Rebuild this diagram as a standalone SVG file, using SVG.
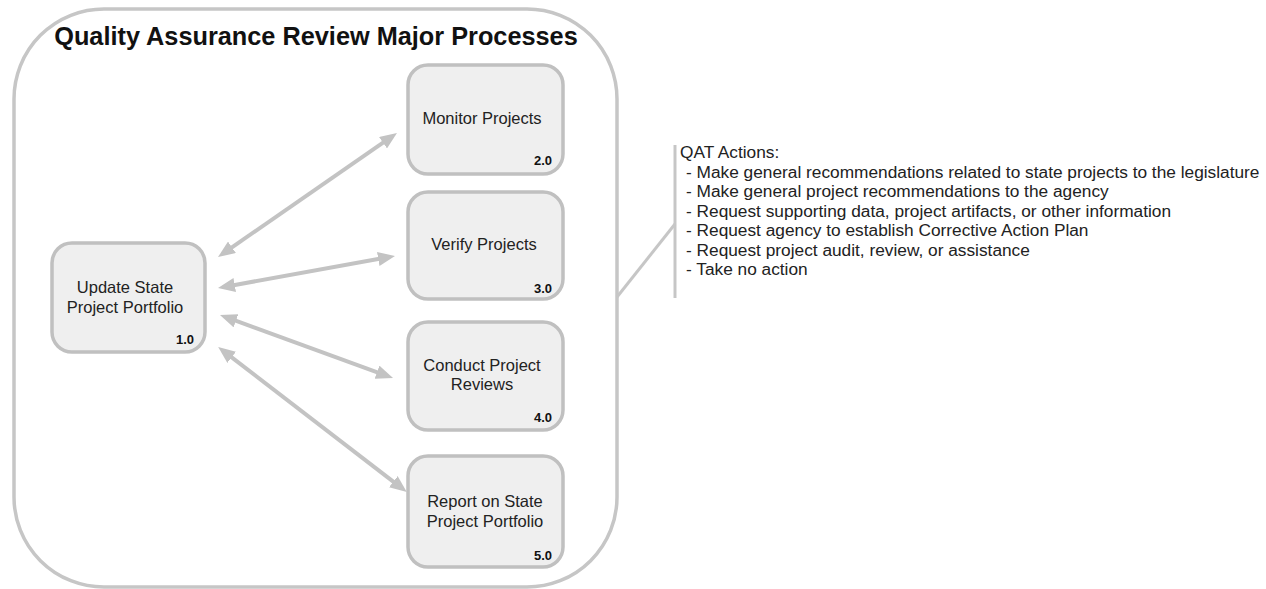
<svg xmlns="http://www.w3.org/2000/svg" width="1266" height="589" viewBox="0 0 1266 589">
  <style>
    .frame { fill: #ffffff; stroke: #c6c6c6; stroke-width: 3.5; }
    .box { fill: #efefef; stroke: #c0c0c0; stroke-width: 3.5; }
    .title { font-family: "Liberation Sans", Arial, sans-serif; font-size: 25.3px; font-weight: bold; fill: #111111; text-anchor: middle; }
    .label { font-family: "Liberation Sans", Arial, sans-serif; font-size: 16.5px; fill: #222222; text-anchor: middle; }
    .num { font-family: "Liberation Sans", Arial, sans-serif; font-size: 13px; font-weight: bold; fill: #111111; text-anchor: end; }
    .note { font-family: "Liberation Sans", Arial, sans-serif; font-size: 17.3px; fill: #222222; }
    .link { stroke: #c3c3c3; stroke-width: 4; fill: none; marker-start: url(#head); marker-end: url(#head); }
    .bracket { stroke: #c6c6c6; stroke-width: 3; fill: none; }
  </style>
  <defs>
    <marker id="head" markerUnits="userSpaceOnUse" markerWidth="17" markerHeight="14" refX="4" refY="7" orient="auto-start-reverse">
      <path d="M0,0 L17,7 L0,14 z" fill="#c3c3c3"/>
    </marker>
  </defs>

  <!-- outer process frame -->
  <g id="frame">
    <rect class="frame" x="14" y="9" width="603" height="578" rx="90" ry="90"/>
    <text class="title" x="316" y="45">Quality Assurance Review Major Processes</text>
  </g>

  <!-- connectors -->
  <g id="connectors">
    <line class="link" x1="228.7" y1="249.6" x2="386.3" y2="140.4"/>
    <line class="link" x1="230.8" y1="285.7" x2="382.2" y2="258.3"/>
    <line class="link" x1="232.2" y1="319.4" x2="380.8" y2="373.6"/>
    <line class="link" x1="228.5" y1="354.9" x2="396.5" y2="484.1"/>
  </g>

  <g id="node-1">
    <rect class="box" x="52" y="243" width="153" height="109" rx="20"/>
    <text class="label" x="125" y="293">Update State</text>
    <text class="label" x="125" y="313">Project Portfolio</text>
    <text class="num" x="194" y="344">1.0</text>
  </g>

  <g id="node-2">
    <rect class="box" x="408" y="65" width="155" height="109" rx="20"/>
    <text class="label" x="482" y="124">Monitor Projects</text>
    <text class="num" x="552" y="165">2.0</text>
  </g>

  <g id="node-3">
    <rect class="box" x="408" y="192" width="155" height="107" rx="20"/>
    <text class="label" x="484" y="250">Verify Projects</text>
    <text class="num" x="552" y="293">3.0</text>
  </g>

  <g id="node-4">
    <rect class="box" x="408" y="322" width="155" height="108" rx="20"/>
    <text class="label" x="482" y="371">Conduct Project</text>
    <text class="label" x="482" y="390">Reviews</text>
    <text class="num" x="552" y="422">4.0</text>
  </g>

  <g id="node-5">
    <rect class="box" x="408" y="456" width="155" height="111" rx="20"/>
    <text class="label" x="485" y="507">Report on State</text>
    <text class="label" x="485" y="527">Project Portfolio</text>
    <text class="num" x="552" y="560">5.0</text>
  </g>

  <!-- annotation bracket and list -->
  <g id="qat-actions">
    <polyline class="bracket" points="617,297 675,224"/>
    <line class="bracket" x1="675" y1="145" x2="675" y2="298"/>
    <text class="note" x="680" y="158">QAT Actions:</text>
    <text class="note" x="686" y="177.5">- Make general recommendations related to state projects to the legislature</text>
    <text class="note" x="686" y="197">- Make general project recommendations to the agency</text>
    <text class="note" x="686" y="216.5">- Request supporting data, project artifacts, or other information</text>
    <text class="note" x="686" y="236">- Request agency to establish Corrective Action Plan</text>
    <text class="note" x="686" y="255.5">- Request project audit, review, or assistance</text>
    <text class="note" x="686" y="275">- Take no action</text>
  </g>
</svg>
